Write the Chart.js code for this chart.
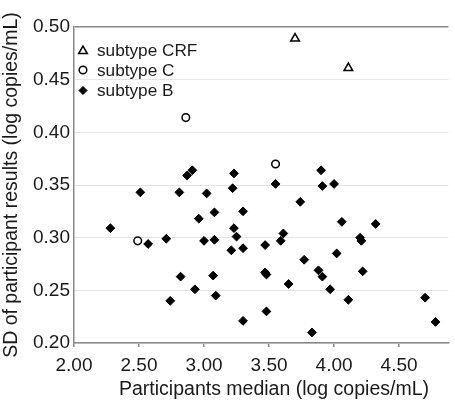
<!DOCTYPE html>
<html><head><meta charset="utf-8">
<script src="https://cdn.jsdelivr.net/npm/chart.js@4"></script>
<style>html,body{margin:0;padding:0;background:#fff}</style>
</head><body>
<canvas id="c" width="455" height="400"></canvas>
<script>
const seriesNames = ['subtype CRF', 'subtype C', 'subtype B'];
const crfX = [3.70, 4.11];
const crfY = [0.489, 0.461];
const cX = [2.49, 2.86, 3.55];
const cY = [0.297, 0.414, 0.370];
const bX = [2.28, 2.51, 2.57, 2.71, 2.81, 2.82, 2.74, 2.87, 2.91, 2.93,
            3.23, 3.22, 3.55, 3.02, 3.74, 2.96, 3.08, 3.30, 3.23, 3.25,
            3.00, 3.08, 3.21, 3.30, 3.47, 3.61, 3.59, 3.77, 3.07, 3.09,
            3.47, 3.48, 3.65, 3.48, 3.30, 3.83, 3.90, 3.91, 4.00, 4.06,
            4.32, 4.20, 4.21, 4.02, 3.88, 3.91, 4.22, 3.97, 4.11, 4.70, 4.78];
const bY = [0.309, 0.343, 0.294, 0.299, 0.343, 0.263, 0.240, 0.359, 0.364, 0.251,
            0.361, 0.347, 0.351, 0.342, 0.334, 0.318, 0.324, 0.325, 0.309, 0.301,
            0.297, 0.298, 0.288, 0.290, 0.293, 0.304, 0.297, 0.279, 0.264, 0.245,
            0.267, 0.265, 0.256, 0.230, 0.221, 0.210, 0.364, 0.349, 0.351, 0.315,
            0.313, 0.300, 0.297, 0.285, 0.269, 0.263, 0.268, 0.251, 0.241, 0.243, 0.220];
const xMin = 2.0, xMax = 4.88, xStep = 0.5;
const yMin = 0.20, yMax = 0.50, yStep = 0.05;
const xAxisTitle = 'Participants median (log copies/mL)';
const yAxisTitle = 'SD of participant results (log copies/mL)';

const FONT = "'Liberation Sans', Arial, sans-serif";
const TXT = '#1a1a1a';
const pts = (xs, ys) => xs.map((x, i) => ({x: x, y: ys[i]}));

function marker(ctx, style, x, y, r, bw) {
  ctx.save();
  ctx.lineWidth = bw;
  ctx.strokeStyle = '#000';
  ctx.fillStyle = '#000';
  ctx.beginPath();
  if (style === 'rectRot') {
    ctx.moveTo(x, y - r); ctx.lineTo(x + r, y); ctx.lineTo(x, y + r); ctx.lineTo(x - r, y); ctx.closePath();
    ctx.fill(); ctx.stroke();
  } else if (style === 'circle') {
    ctx.arc(x, y, r, 0, Math.PI * 2); ctx.stroke();
  } else {
    const a = Math.PI * 2 / 3;
    for (let k = 0; k < 3; k++) {
      const px = x + Math.sin(k * a) * r, py = y - Math.cos(k * a) * r;
      if (k === 0) ctx.moveTo(px, py); else ctx.lineTo(px, py);
    }
    ctx.closePath(); ctx.stroke();
  }
  ctx.restore();
}

const legendPlugin = {
  id: 'insideLegend',
  afterDatasetsDraw(chart) {
    const ctx = chart.ctx, a = chart.chartArea;
    const styles = [['triangle', 5, 1.5], ['circle', 3.8, 1.5], ['rectRot', 4, 1]];
    const rows = [23, 43, 63.5];
    ctx.save();
    ctx.font = '17.2px ' + FONT;
    ctx.textBaseline = 'middle';
    seriesNames.forEach((n, i) => {
      const y = a.top + rows[i];
      marker(ctx, styles[i][0], a.left + 9, y + (i === 0 ? 1 : 0), styles[i][1], styles[i][2]);
      ctx.fillStyle = TXT;
      ctx.fillText(n, a.left + 23, y + 1);
    });
    // x-axis title (offset right as in the reference)
    ctx.font = '19.5px ' + FONT;
    ctx.textAlign = 'center';
    ctx.fillStyle = TXT;
    ctx.fillText(xAxisTitle, 274, 390);
    ctx.restore();
  }
};

new Chart(document.getElementById('c'), {
  type: 'scatter',
  data: {
    datasets: [
      {label: seriesNames[2], data: pts(bX, bY), pointStyle: 'rectRot', pointRadius: 4.4, borderWidth: 1,
       backgroundColor: '#000', borderColor: '#000'},
      {label: seriesNames[1], data: pts(cX, cY), pointStyle: 'circle', pointRadius: 3.8, borderWidth: 1.5,
       backgroundColor: 'rgba(0,0,0,0)', borderColor: '#000'},
      {label: seriesNames[0], data: pts(crfX, crfY), pointStyle: 'triangle', pointRadius: 5, borderWidth: 1.5,
       backgroundColor: 'rgba(0,0,0,0)', borderColor: '#000'}
    ]
  },
  options: {
    responsive: false, animation: false, devicePixelRatio: 1,
    layout: {padding: {top: 27, right: 0, left: 0, bottom: 0}},
    plugins: {legend: {display: false}, tooltip: {enabled: false}},
    scales: {
      x: {
        type: 'linear', min: xMin, max: xMax,
        afterFit: s => { s.height = 57; },
        ticks: {stepSize: xStep, includeBounds: false, maxRotation: 0, padding: 7,
                callback: v => v.toFixed(2), font: {family: FONT, size: 19}, color: TXT},
        grid: {drawOnChartArea: false, drawTicks: true, tickLength: 4, color: '#888', lineWidth: 1.5},
        border: {color: '#888', width: 1.5},
        title: {display: false, text: xAxisTitle}
      },
      y: {
        type: 'linear', min: yMin, max: yMax,
        afterFit: s => { s.width = 74; },
        ticks: {stepSize: yStep, padding: 4, callback: v => v.toFixed(2), font: {family: FONT, size: 19}, color: TXT},
        grid: {drawTicks: false, color: c => (c.tick && c.tick.value > 0.499) ? '#888' : '#e4e4e4',
               lineWidth: c => (c.tick && c.tick.value > 0.499) ? 1.5 : 1},
        border: {color: '#888', width: 1.5},
        title: {display: true, text: yAxisTitle, font: {family: FONT, size: 19.5}, color: TXT, padding: {top: 0, bottom: 0}}
      }
    }
  },
  plugins: [legendPlugin]
});
</script>
</body></html>
